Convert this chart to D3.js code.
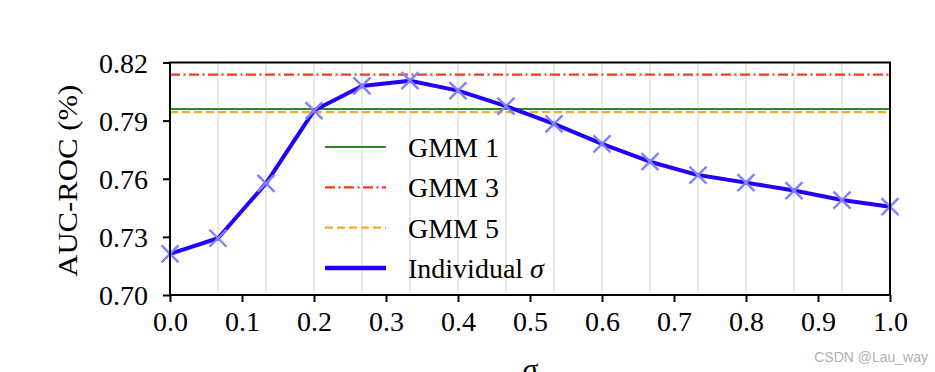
<!DOCTYPE html>
<html>
<head>
<meta charset="utf-8">
<script src="https://cdn.jsdelivr.net/npm/d3@7"></script>
<style>
  html, body { margin: 0; padding: 0; background: #fff; }
  svg { display: block; }
  text { font-family: "Liberation Serif", "DejaVu Serif", serif; }
  text.wm { font-family: "Liberation Sans", Arial, sans-serif; }
</style>
</head>
<body>
<svg id="chart" width="935" height="372"></svg>
<script>
// ---- data ----
const sigmaValues = [0.0, 1/15, 2/15, 3/15, 4/15, 5/15, 6/15, 7/15, 8/15, 9/15, 10/15, 11/15, 12/15, 13/15, 14/15, 1.0];
const individualAUC = [0.7212, 0.7293, 0.7576, 0.7952, 0.8079, 0.8106, 0.8055, 0.7975, 0.7883, 0.7780, 0.7688, 0.7619, 0.7580, 0.7539, 0.7490, 0.7456];
const gmmNames = ["GMM 1", "GMM 3", "GMM 5"];
const gmmValues = [0.7960, 0.8137, 0.7944];
const xTicks = [0.0, 0.1, 0.2, 0.3, 0.4, 0.5, 0.6, 0.7, 0.8, 0.9, 1.0];
const yTicks = [0.70, 0.73, 0.76, 0.79, 0.82];
const seriesName = "Individual σ";

// ---- styles ----
const gmmStyles = [
  { color: "#2a8a1e", dash: null },
  { color: "#f43a22", dash: "10,3.5,2,3.5" },
  { color: "#f7a928", dash: "8,4" }
];
const lineColor = "#2000ff";
const markerColor = "#8080ff";

const svg = d3.select("#chart");
const m = { left: 170, right: 890, top: 62.5, bottom: 295 };

const x = d3.scaleLinear().domain([0, 1]).range([m.left, m.right]);
const y = d3.scaleLinear().domain([0.70, 0.82]).range([m.bottom, m.top]);

// vertical grid lines at sample positions
svg.append("g").selectAll("line")
  .data(sigmaValues.slice(1, -1))
  .join("line")
  .attr("x1", d => x(d)).attr("x2", d => x(d))
  .attr("y1", m.top).attr("y2", m.bottom)
  .attr("stroke", "#dcdcdc").attr("stroke-width", 1.2);

// GMM horizontal lines
gmmValues.forEach((v, i) => {
  svg.append("line")
    .attr("x1", x(0)).attr("x2", x(1))
    .attr("y1", y(v)).attr("y2", y(v))
    .attr("stroke", gmmStyles[i].color)
    .attr("stroke-width", 2.2)
    .attr("stroke-dasharray", gmmStyles[i].dash);
});

// main line
const pts = sigmaValues.map((s, i) => [s, individualAUC[i]]);
svg.append("path")
  .datum(pts)
  .attr("fill", "none")
  .attr("stroke", lineColor)
  .attr("stroke-width", 4)
  .attr("stroke-linejoin", "round")
  .attr("d", d3.line().x(d => x(d[0])).y(d => y(d[1])));

// x markers
const ms = 8.5;
svg.append("g").selectAll("path")
  .data(pts)
  .join("path")
  .attr("d", d => {
    const cx = x(d[0]), cy = y(d[1]);
    return `M${cx-ms},${cy-ms}L${cx+ms},${cy+ms}M${cx-ms},${cy+ms}L${cx+ms},${cy-ms}`;
  })
  .attr("stroke", markerColor)
  .attr("stroke-width", 2.4)
  .attr("fill", "none");

// frame
svg.append("rect")
  .attr("x", m.left).attr("y", m.top)
  .attr("width", m.right - m.left).attr("height", m.bottom - m.top)
  .attr("fill", "none").attr("stroke", "#000").attr("stroke-width", 2);

// axes
const xAxis = d3.axisBottom(x).tickValues(xTicks).tickFormat(d3.format(".1f")).tickSize(7).tickPadding(8);
const gx = svg.append("g").attr("transform", `translate(0,${m.bottom})`).call(xAxis);
gx.select(".domain").remove();
gx.selectAll(".tick line").attr("stroke", "#000").attr("stroke-width", 2);
gx.selectAll(".tick text").style("font-size", "28px").style("font-family", "Liberation Serif, serif")
  .attr("fill", "#000").attr("dy", "0.76em");

const yAxis = d3.axisLeft(y).tickValues(yTicks).tickFormat(d3.format(".2f")).tickSize(7).tickPadding(15);
const gy = svg.append("g").attr("transform", `translate(${m.left},0)`).call(yAxis);
gy.select(".domain").remove();
gy.selectAll(".tick line").attr("stroke", "#000").attr("stroke-width", 2);
gy.selectAll(".tick text").style("font-size", "28px").style("font-family", "Liberation Serif, serif")
  .attr("fill", "#000").attr("dy", "0.34em");

// axis titles
svg.append("text")
  .attr("transform", `translate(77,${(m.top + m.bottom) / 2 + 2}) rotate(-90)`)
  .attr("text-anchor", "middle")
  .attr("font-size", 28)
  .attr("textLength", 192)
  .attr("lengthAdjust", "spacingAndGlyphs")
  .attr("fill", "#000")
  .text("AUC-ROC (%)");

svg.append("text")
  .attr("x", x(0.5)).attr("y", 379)
  .attr("text-anchor", "middle")
  .attr("font-size", 30)
  .attr("font-style", "italic")
  .attr("fill", "#000")
  .text("σ");

// legend
const legendItems = gmmNames.map((n, i) => ({ name: n, color: gmmStyles[i].color, dash: gmmStyles[i].dash, w: 2.2 }))
  .concat([{ name: seriesName, color: lineColor, dash: null, w: 4.5 }]);
const lg = svg.append("g");
legendItems.forEach((it, i) => {
  const cy = 147 + i * 40.3;
  lg.append("line")
    .attr("x1", 325).attr("x2", 386)
    .attr("y1", cy).attr("y2", cy)
    .attr("stroke", it.color).attr("stroke-width", it.w)
    .attr("stroke-dasharray", it.dash);
  const t = lg.append("text")
    .attr("x", 408).attr("y", cy + 10)
    .attr("font-size", 28).attr("fill", "#000");
  if (it.name.endsWith("σ")) {
    t.append("tspan").text(it.name.slice(0, -1));
    t.append("tspan").attr("font-style", "italic").text("σ");
  } else {
    t.text(it.name);
  }
});

// watermark
svg.append("text")
  .attr("class", "wm")
  .attr("x", 928).attr("y", 362)
  .attr("text-anchor", "end")
  .attr("font-size", 14)
  .attr("fill", "#b0b0b0")
  .text("CSDN @Lau_way");
</script>
</body>
</html>
